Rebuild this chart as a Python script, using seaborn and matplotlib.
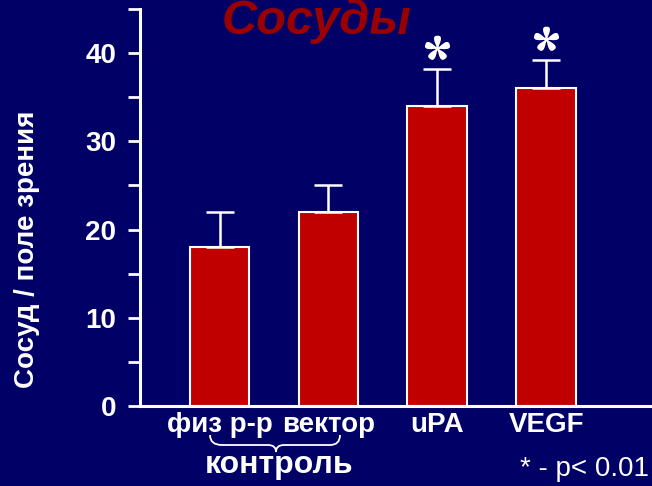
import matplotlib
matplotlib.use("Agg")
import matplotlib.pyplot as plt
import seaborn as sns
import pandas as pd
import numpy as np
from matplotlib.ticker import MultipleLocator
from matplotlib.path import Path
from matplotlib.patches import PathPatch

categories = ["физ р-р", "вектор", "uPA", "VEGF"]
values = [18, 22, 34, 36]
errors = [4, 3, 4.2, 3.2]
significant = [False, False, True, True]

BG = "#000066"
BAR = "#C00000"
TITLE_C = "#990000"

sns.set_theme(style="white")
plt.rcParams["font.family"] = ["Liberation Sans", "DejaVu Sans"]

df = pd.DataFrame({"group": categories, "value": values})

fig = plt.figure(figsize=(6.52, 4.86), dpi=100, facecolor=BG)
ax = fig.add_axes([140/652, 80/486, 512/652, 397/486])
ax.set_facecolor(BG)

sns.barplot(data=df, x="group", y="value", order=categories, color=BAR,
            width=0.55, edgecolor="white", linewidth=1.5, saturation=1,
            errorbar=None, ax=ax)

pos = np.arange(len(categories))
ax.errorbar(pos, values, yerr=[np.zeros(len(errors)), errors], fmt="none",
            ecolor="white", elinewidth=1.8, capsize=10, capthick=1.8, zorder=1)

# five-petal asterisk marker (teardrop petals, single outline)
th = np.linspace(0, 2 * np.pi, 600, endpoint=False)
phi = th - np.pi / 2
c = np.abs(np.cos(5 * phi / 2))
r = 0.12 + 0.88 * np.sqrt(np.clip(1 - ((1 - c) / 0.55) ** 2, 0, 1)) * (c > 0.45)
r = np.maximum(r, 0.12 + 0.25 * c)
star = Path(np.column_stack([r * np.cos(th), r * np.sin(th)]), closed=True)

sx = [p for p, s in zip(pos, significant) if s]
sy = [v + e + 2.4 for v, e, s in zip(values, errors, significant) if s]
ax.scatter(sx, sy, marker=star, s=340, color="white", linewidths=0, zorder=5,
           clip_on=False)

ax.set_xlim(-0.73, 3.97)
ax.set_ylim(0, 45)
ax.yaxis.set_minor_locator(MultipleLocator(5))
ax.set_yticks([0, 10, 20, 30, 40])

for side in ["top", "right"]:
    ax.spines[side].set_visible(False)
for side in ["left", "bottom"]:
    ax.spines[side].set_color("white")
    ax.spines[side].set_linewidth(2.2)

ax.tick_params(axis="y", which="both", left=True, length=9, width=2, color="white",
               labelcolor="white", labelsize=20, pad=8)
ax.tick_params(axis="x", length=0, labelcolor="white", labelsize=20, pad=4)
for lab in ax.get_yticklabels() + ax.get_xticklabels():
    lab.set_fontweight("bold")
ax.set_xlabel("")
ax.set_ylabel("")

fig.text(27/652, 1 - 249/486, "Сосуд / поле зрения", color="white", fontsize=20,
         fontweight="bold", rotation=90, ha="center", va="center")

# title
fig.text(316/652, 1 - 34/486, "Сосуды", color=TITLE_C, fontsize=35, fontweight="bold",
         fontstyle="italic", ha="center", va="baseline")

# brace under the control groups
verts = [(210, 435), (210, 445), (222, 445),
         (268, 445), (276, 445), (276, 452),
         (276, 445), (284, 445), (330, 445),
         (340, 445), (340, 435)]
codes = [Path.MOVETO, Path.CURVE3, Path.CURVE3,
         Path.LINETO, Path.CURVE3, Path.CURVE3,
         Path.CURVE3, Path.CURVE3, Path.LINETO,
         Path.CURVE3, Path.CURVE3]
verts_fig = [(x/652, 1 - y/486) for x, y in verts]
fig.patches.append(PathPatch(Path(verts_fig, codes), transform=fig.transFigure,
                             facecolor="none", edgecolor="white", lw=1.3))

fig.text(279/652, 1 - 473/486, "контроль", color="white", fontsize=23, fontweight="bold",
         ha="center", va="baseline")
fig.text(649/652, 1 - 476/486, "* - p< 0.01", color="white", fontsize=20,
         ha="right", va="baseline")

fig.savefig("out.png", dpi=100, facecolor=BG)
